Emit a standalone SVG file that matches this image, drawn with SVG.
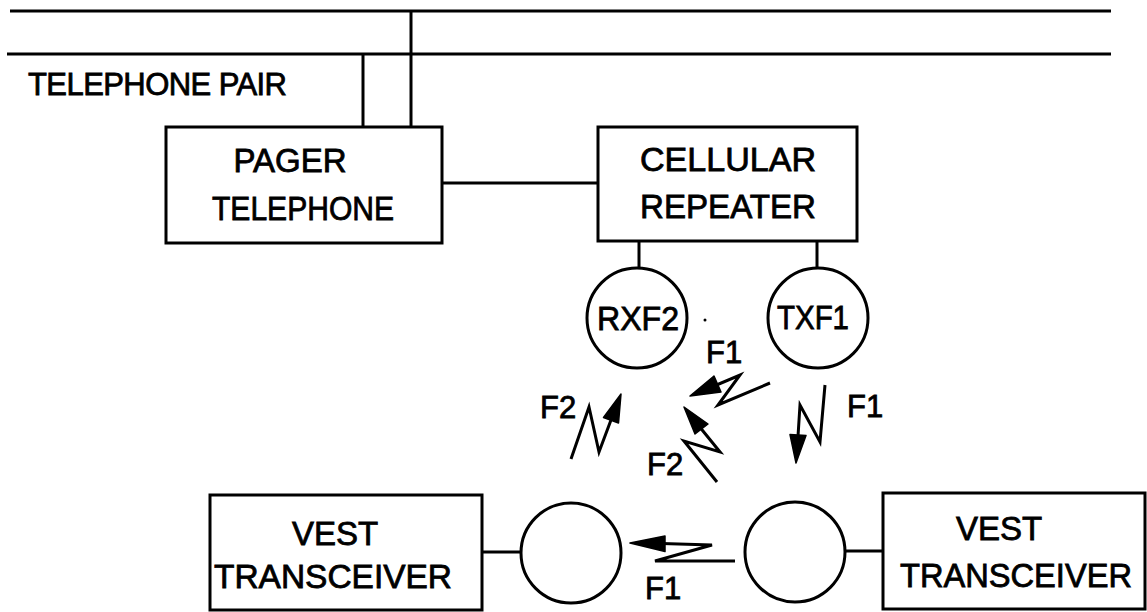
<svg xmlns="http://www.w3.org/2000/svg" width="1147" height="612" viewBox="0 0 1147 612">
<style>
.ln{stroke:#000;stroke-width:3;fill:none}
.box{stroke:#000;stroke-width:3;fill:#fff}
.t{font-family:"Liberation Sans",Arial,sans-serif;font-size:33px;fill:#000;stroke:#000;stroke-width:0.8;text-anchor:middle}
.s{font-family:"Liberation Sans",Arial,sans-serif;font-size:31px;fill:#000;stroke:#000;stroke-width:0.8}
.zz{stroke:#000;stroke-width:3;fill:none;stroke-linejoin:miter}
.hd{fill:#000;stroke:#000;stroke-width:1.5;stroke-linejoin:round}
</style>
<rect width="1147" height="612" fill="#fff"/>
<g id="connectors">
<line class="ln" x1="10" y1="11" x2="1111" y2="11"/>
<line class="ln" x1="7" y1="54" x2="1111" y2="54"/>
<line class="ln" x1="363" y1="54" x2="363" y2="127"/>
<line class="ln" x1="411" y1="11" x2="411" y2="127"/>
<line class="ln" x1="442" y1="183" x2="598" y2="183"/>
<line class="ln" x1="639" y1="241" x2="639" y2="268"/>
<line class="ln" x1="817" y1="241" x2="817" y2="268"/>
<line class="ln" x1="482" y1="552" x2="521" y2="552"/>
<line class="ln" x1="845" y1="551" x2="883" y2="551"/>
<circle cx="705" cy="320" r="1.5" fill="#000"/>
</g>
<g id="label-telephone-pair">
<text class="s" x="28" y="95" textLength="259" lengthAdjust="spacing">TELEPHONE PAIR</text>
</g>
<g id="pager-telephone">
<rect class="box" x="166" y="127" width="276" height="116"/>
<text class="t" x="290" y="172">PAGER</text>
<text class="t" x="303" y="220" textLength="182" lengthAdjust="spacingAndGlyphs">TELEPHONE</text>
</g>
<g id="cellular-repeater">
<rect class="box" x="598" y="127" width="259" height="114"/>
<text class="t" x="728" y="171" textLength="176" lengthAdjust="spacingAndGlyphs">CELLULAR</text>
<text class="t" x="728" y="218" textLength="176" lengthAdjust="spacingAndGlyphs">REPEATER</text>
</g>
<g id="rxf2">
<circle class="box" cx="637" cy="318" r="50"/>
<text class="t" x="638" y="330" textLength="82" lengthAdjust="spacingAndGlyphs">RXF2</text>
</g>
<g id="txf1">
<circle class="box" cx="818" cy="318" r="50"/>
<text class="t" x="813" y="329" textLength="72" lengthAdjust="spacingAndGlyphs">TXF1</text>
</g>
<g id="vest-left">
<rect class="box" x="210" y="495" width="272" height="115"/>
<text class="t" x="335" y="545">VEST</text>
<text class="t" x="333" y="588" textLength="238" lengthAdjust="spacingAndGlyphs">TRANSCEIVER</text>
</g>
<g id="antenna-left">
<circle class="box" cx="571" cy="553" r="50"/>
</g>
<g id="antenna-right">
<circle class="box" cx="795" cy="552" r="50"/>
</g>
<g id="vest-right">
<rect class="box" x="883" y="493" width="262" height="116"/>
<text class="t" x="999" y="540">VEST</text>
<text class="t" x="1016" y="587" textLength="232" lengthAdjust="spacingAndGlyphs">TRANSCEIVER</text>
</g>
<g id="links">
<polyline class="zz" points="770,383 718,405 740,375 700,392"/>
<polygon class="hd" points="690,396 721,392 714,376"/>
<text class="s" x="706" y="363">F1</text>
<polyline class="zz" points="571,459 589,407 599,452 617,404"/>
<polygon class="hd" points="621,394 618.5,423 603.5,417.5"/>
<text class="s" x="540" y="418">F2</text>
<polyline class="zz" points="717,482 684,441 720,452 690,415"/>
<polygon class="hd" points="684,407 708,424 695,434"/>
<text class="s" x="647" y="475">F2</text>
<polyline class="zz" points="825,385 820,442 800,405 797,452"/>
<polygon class="hd" points="796,463 806,435.5 790,434.5"/>
<text class="s" x="847" y="417">F1</text>
<polyline class="zz" points="735,561 655,561 712,545 645,543"/>
<polygon class="hd" points="630,543 665,551.5 665,536"/>
<text class="s" x="645" y="599">F1</text>
</g>
</svg>
